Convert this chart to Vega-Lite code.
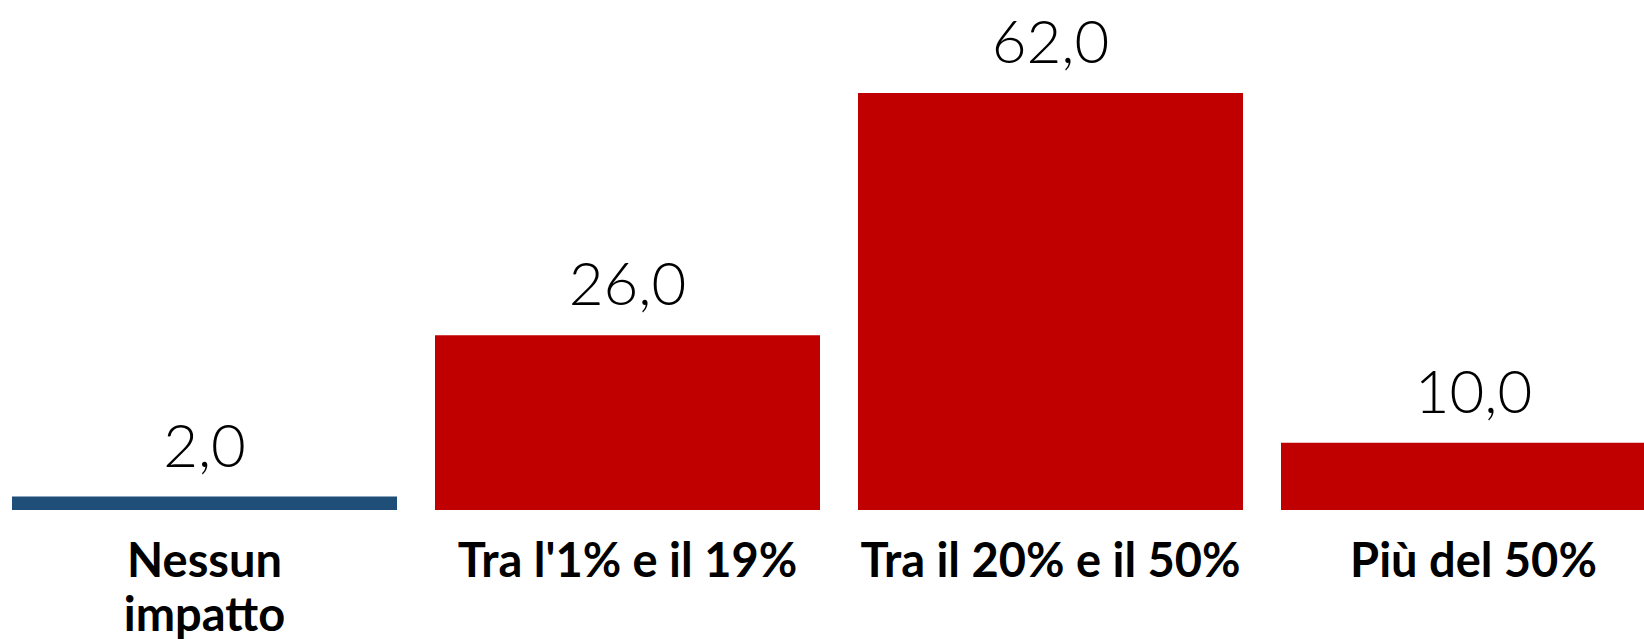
{
  "$schema": "https://vega.github.io/schema/vega-lite/v6.json",
  "autosize": {"type": "none"},
  "width": 1644,
  "height": 510,
  "padding": {"left": 0, "top": 0, "right": 0, "bottom": 129},
  "background": "white",
  "config": {
    "view": {"stroke": null},
    "locale": {"number": {"decimal": ",", "thousands": ".", "grouping": [3], "currency": ["", " €"]}}
  },
  "data": {"values": [
    {"categoria": "Nessun impatto", "valore": 2.0},
    {"categoria": "Tra l'1% e il 19%", "valore": 26.0},
    {"categoria": "Tra il 20% e il 50%", "valore": 62.0},
    {"categoria": "Più del 50%", "valore": 10.0}
  ]},
  "encoding": {
    "x": {
      "field": "categoria", "type": "nominal", "sort": null,
      "scale": {"range": [12, 1666], "paddingInner": 0.0898, "paddingOuter": 0},
      "axis": {
        "title": null, "domain": false, "ticks": false, "labelAngle": 0,
        "labelFont": "Lato", "labelFontWeight": "bold", "labelFontSize": 47,
        "labelColor": "#000000", "labelBaseline": "top", "labelPadding": 29,
        "labelLineHeight": 54, "labelLimit": 600,
        "labelExpr": "datum.value == 'Nessun impatto' ? ['Nessun', 'impatto'] : datum.value"
      }
    },
    "y": {
      "field": "valore", "type": "quantitative",
      "scale": {"domain": [0, 75.83], "nice": false, "zero": true},
      "axis": null
    }
  },
  "layer": [
    {
      "mark": {"type": "bar", "clip": false},
      "encoding": {
        "color": {
          "field": "categoria", "type": "nominal",
          "scale": {"domain": ["Nessun impatto", "Tra l'1% e il 19%", "Tra il 20% e il 50%", "Più del 50%"],
                    "range": ["#1F4E79", "#C00000", "#C00000", "#C00000"]},
          "legend": null
        }
      }
    },
    {
      "mark": {"type": "text", "baseline": "alphabetic", "dy": -30, "font": "Lato", "fontWeight": 300, "fontSize": 60, "color": "#000000"},
      "encoding": {
        "text": {"field": "valore", "type": "quantitative", "format": ".1f", "formatType": "number"}
      }
    }
  ]
}
